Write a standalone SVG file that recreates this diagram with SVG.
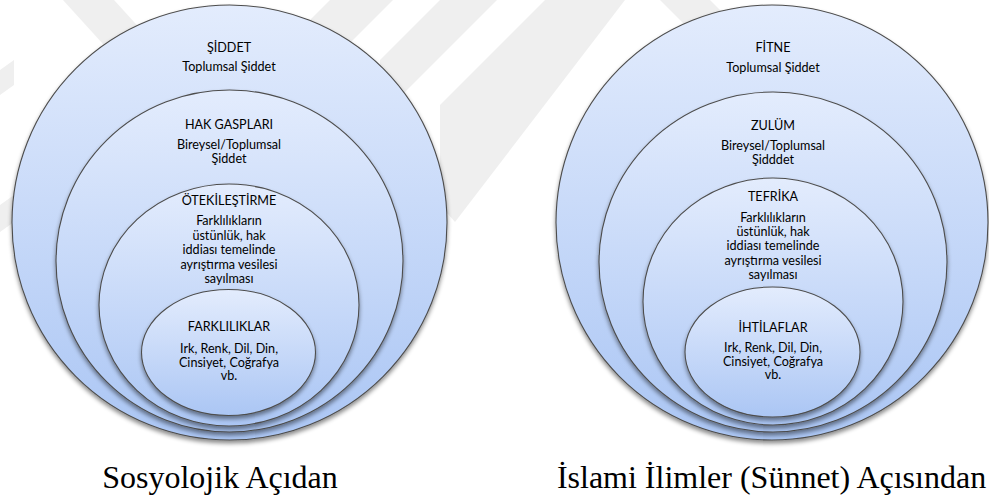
<svg xmlns="http://www.w3.org/2000/svg" width="989" height="504" viewBox="0 0 989 504">
<style>
  .ell { stroke: #4d4d4d; stroke-width: 1.1; fill: url(#g); }
  .lbl { font-family: Lato, "Noto Sans", "DejaVu Sans", sans-serif; font-size: 12.6px; fill: #000; text-anchor: middle; }
  .cap { font-family: "Liberation Serif", "Times New Roman", serif; font-size: 32px; fill: #000; text-anchor: middle; }
  .wm { fill: #efefef; }
</style>
<defs>
  <linearGradient id="g" x1="0" y1="0" x2="0" y2="1">
    <stop offset="0" stop-color="#e3ecfd"/>
    <stop offset="1" stop-color="#abc6f4"/>
  </linearGradient>
  <filter id="sh" x="-10%" y="-10%" width="120%" height="125%">
    <feDropShadow dx="0" dy="3" stdDeviation="2" flood-color="#000" flood-opacity="0.45"/>
  </filter>
</defs>
<rect width="989" height="504" fill="#fff"/>
<g id="watermark">
  <polygon class="wm" points="63,0 114,0 164,55 113,55"/>
  <polygon class="wm" points="330,0 393,0 333,60 270,60"/>
  <polygon class="wm" points="440,0 497,0 380,117 380,60"/>
  <polygon class="wm" points="545,0 625,0 455,222 440,205 440,105"/>
  <polygon class="wm" points="660,0 710,0 750,40 700,40"/>
  <polygon class="wm" points="0,205 14,195 14,222 0,232"/>
  <polygon class="wm" points="0,70 14,60 14,85 0,95"/>
</g>
<g id="left-diagram">
  <g id="siddet" filter="url(#sh)">
    <ellipse class="ell" cx="229.5" cy="222.5" rx="217.5" ry="217.5"/>
  </g>
  <g id="siddet-text">
    <text class="lbl" x="229" y="52">ŞİDDET</text>
    <text class="lbl" x="229" y="71">Toplumsal Şiddet</text>
  </g>
  <g id="hak-gasplari" filter="url(#sh)">
    <ellipse class="ell" cx="229.5" cy="261" rx="173.5" ry="171"/>
  </g>
  <g id="hak-gasplari-text">
    <text class="lbl" x="229" y="129">HAK GASPLARI</text>
    <text class="lbl" x="229" y="149">Bireysel/Toplumsal</text>
    <text class="lbl" x="229" y="163">Şiddet</text>
  </g>
  <g id="otekilestirme" filter="url(#sh)">
    <ellipse class="ell" cx="229" cy="305" rx="130" ry="121"/>
  </g>
  <g id="otekilestirme-text">
    <text class="lbl" x="229" y="205">ÖTEKİLEŞTİRME</text>
    <text class="lbl" x="229" y="225">Farklılıkların</text>
    <text class="lbl" x="229" y="239.5">üstünlük, hak</text>
    <text class="lbl" x="229" y="254">iddiası temelinde</text>
    <text class="lbl" x="229" y="268.5">ayrıştırma vesilesi</text>
    <text class="lbl" x="229" y="283">sayılması</text>
  </g>
  <g id="farkliliklar" filter="url(#sh)">
    <ellipse class="ell" cx="228.5" cy="352.5" rx="87" ry="63"/>
  </g>
  <g id="farkliliklar-text">
    <text class="lbl" x="229" y="331">FARKLILIKLAR</text>
    <text class="lbl" x="229" y="353">Irk, Renk, Dil, Din,</text>
    <text class="lbl" x="229" y="366.5">Cinsiyet, Coğrafya</text>
    <text class="lbl" x="229" y="380">vb.</text>
  </g>
  <text class="cap" x="220" y="488">Sosyolojik Açıdan</text>
</g>
<g id="right-diagram">
  <g id="fitne" filter="url(#sh)">
    <ellipse class="ell" cx="772" cy="222.5" rx="216" ry="217.5"/>
  </g>
  <g id="fitne-text">
    <text class="lbl" x="773" y="52">FİTNE</text>
    <text class="lbl" x="773" y="72">Toplumsal Şiddet</text>
  </g>
  <g id="zulum" filter="url(#sh)">
    <ellipse class="ell" cx="773" cy="262" rx="174" ry="170"/>
  </g>
  <g id="zulum-text">
    <text class="lbl" x="773" y="130">ZULÜM</text>
    <text class="lbl" x="773" y="150">Bireysel/Toplumsal</text>
    <text class="lbl" x="773" y="163.5">Şidddet</text>
  </g>
  <g id="tefrika" filter="url(#sh)">
    <ellipse class="ell" cx="773" cy="301.5" rx="130" ry="123.5"/>
  </g>
  <g id="tefrika-text">
    <text class="lbl" x="773" y="201">TEFRİKA</text>
    <text class="lbl" x="773" y="222">Farklılıkların</text>
    <text class="lbl" x="773" y="235.5">üstünlük, hak</text>
    <text class="lbl" x="773" y="250">iddiası temelinde</text>
    <text class="lbl" x="773" y="264.5">ayrıştırma vesilesi</text>
    <text class="lbl" x="773" y="278.5">sayılması</text>
  </g>
  <g id="ihtilaflar" filter="url(#sh)">
    <ellipse class="ell" cx="772.5" cy="352" rx="87.5" ry="65"/>
  </g>
  <g id="ihtilaflar-text">
    <text class="lbl" x="773" y="332">İHTİLAFLAR</text>
    <text class="lbl" x="773" y="352">Irk, Renk, Dil, Din,</text>
    <text class="lbl" x="773" y="365.5">Cinsiyet, Coğrafya</text>
    <text class="lbl" x="773" y="379">vb.</text>
  </g>
  <text class="cap" x="771.5" y="488">İslami İlimler (Sünnet) Açısından</text>
</g>
</svg>
